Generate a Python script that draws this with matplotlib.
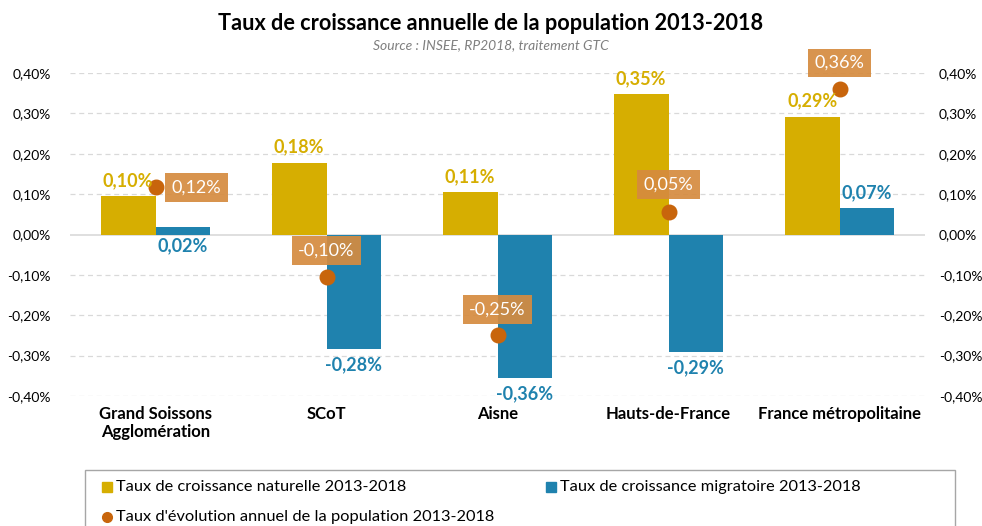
import matplotlib.pyplot as plt
import numpy as np
from matplotlib.patches import Rectangle
from matplotlib.lines import Line2D

plt.rcParams['font.family'] = ['Lato', 'DejaVu Sans']

categories = ['Grand Soissons\nAgglomération', 'SCoT', 'Aisne', 'Hauts-de-France', 'France métropolitaine']
naturel = [0.095, 0.178, 0.105, 0.347, 0.291]
migratoire = [0.019, -0.283, -0.355, -0.291, 0.065]
evolution = [0.117, -0.105, -0.248, 0.056, 0.360]
lab_nat = ['0,10%', '0,18%', '0,11%', '0,35%', '0,29%']
lab_mig = ['0,02%', '-0,28%', '-0,36%', '-0,29%', '0,07%']
lab_evo = ['0,12%', '-0,10%', '-0,25%', '0,05%', '0,36%']
# offsets of the evolution label boxes (in category units / value units)
evo_off = [(0.24, 0.0), (0.0, 0.065), (0.0, 0.062), (0.0, 0.068), (0.0, 0.065)]

c_nat = '#D6AE01'
c_mig = '#1F82AE'
c_evo = '#C8650C'
c_box = '#D58B3F'

fig = plt.figure(figsize=(9.82, 5.26), dpi=100)
ax = fig.add_axes([70/982, 1-396/526, 855/982, 323/526])

x = np.arange(len(categories))
w = 0.32
ax.bar(x - w/2, naturel, w, color=c_nat, zorder=2)
ax.bar(x + w/2, migratoire, w, color=c_mig, zorder=2)
ax.scatter(x, evolution, s=110, color=c_evo, zorder=4)

for i in range(len(x)):
    ax.text(x[i] - w/2, naturel[i] + 0.018, lab_nat[i], color=c_nat, fontsize=13,
            fontweight='bold', ha='center', va='bottom', zorder=5)
    if i == 0:
        # small positive value: label placed under the bar like the original
        ax.text(x[i] + w/2, -0.006, lab_mig[i], color=c_mig, fontsize=13,
                fontweight='bold', ha='center', va='top', zorder=5)
    elif migratoire[i] >= 0:
        ax.text(x[i] + w/2, migratoire[i] + 0.018, lab_mig[i], color=c_mig, fontsize=13,
                fontweight='bold', ha='center', va='bottom', zorder=5)
    else:
        ax.text(x[i] + w/2, migratoire[i] - 0.018, lab_mig[i], color=c_mig, fontsize=13,
                fontweight='bold', ha='center', va='top', zorder=5)
    dx, dy = evo_off[i]
    ax.text(x[i] + dx, evolution[i] + dy, lab_evo[i], color='white', fontsize=13,
            ha='center', va='center', zorder=6,
            bbox=dict(boxstyle='square,pad=0.35', fc=c_box, ec='none', alpha=0.92))

ax.set_xlim(-0.5, len(categories) - 0.5)
ax.set_ylim(-0.40, 0.40)
yt = np.arange(-0.4, 0.41, 0.1)
ax.set_yticks(yt)
ytl = [('%.2f%%' % v).replace('.', ',').replace('-0,00', '0,00') for v in yt]
ax.set_yticklabels(ytl, fontsize=10)
ax.set_xticks(x)
ax.set_xticklabels(categories, fontsize=12, fontweight='bold')
ax.tick_params(axis='both', length=0, pad=14)
ax.tick_params(axis='x', pad=7)
for s in ax.spines.values():
    s.set_visible(False)
for v in yt:
    if abs(v) < 1e-9:
        ax.axhline(0, color='#D9D9D9', lw=1.2, zorder=1)
    else:
        ax.axhline(v, color='#D9D9D9', lw=0.9, ls=(0, (4, 3)), zorder=1)

ax2 = ax.twinx()
ax2.set_ylim(-0.40, 0.40)
ax2.set_yticks(yt)
ax2.set_yticklabels(ytl, fontsize=10)
ax2.tick_params(axis='y', length=0, pad=10)
for s in ax2.spines.values():
    s.set_visible(False)

fig.text(0.5, 1-23/526, 'Taux de croissance annuelle de la population 2013-2018',
         ha='center', va='center', fontsize=15.6, fontweight='bold')
fig.text(0.5, 1-45/526, 'Source : INSEE, RP2018, traitement GTC', ha='center', va='center',
         fontsize=10, style='italic', color='#7F7F7F')

# legend
fig.add_artist(Rectangle((85/982, -0.05), 870/982, 0.05 + 1-470/526, transform=fig.transFigure,
                         fill=False, ec='#A6A6A6', lw=1))
items = [(107, 487, 's', c_nat, 'Taux de croissance naturelle 2013-2018'),
         (551, 487, 's', c_mig, 'Taux de croissance migratoire 2013-2018'),
         (107, 517, 'o', c_evo, "Taux d'évolution annuel de la population 2013-2018")]
for px, py, m, c, t in items:
    fig.add_artist(Line2D([px/982], [1-py/526], marker=m, color=c, markersize=7, ls='none',
                          transform=fig.transFigure))
    fig.text((px + 9)/982, 1-py/526, t, ha='left', va='center', fontsize=11.8)

fig.savefig('out.png', dpi=100)
